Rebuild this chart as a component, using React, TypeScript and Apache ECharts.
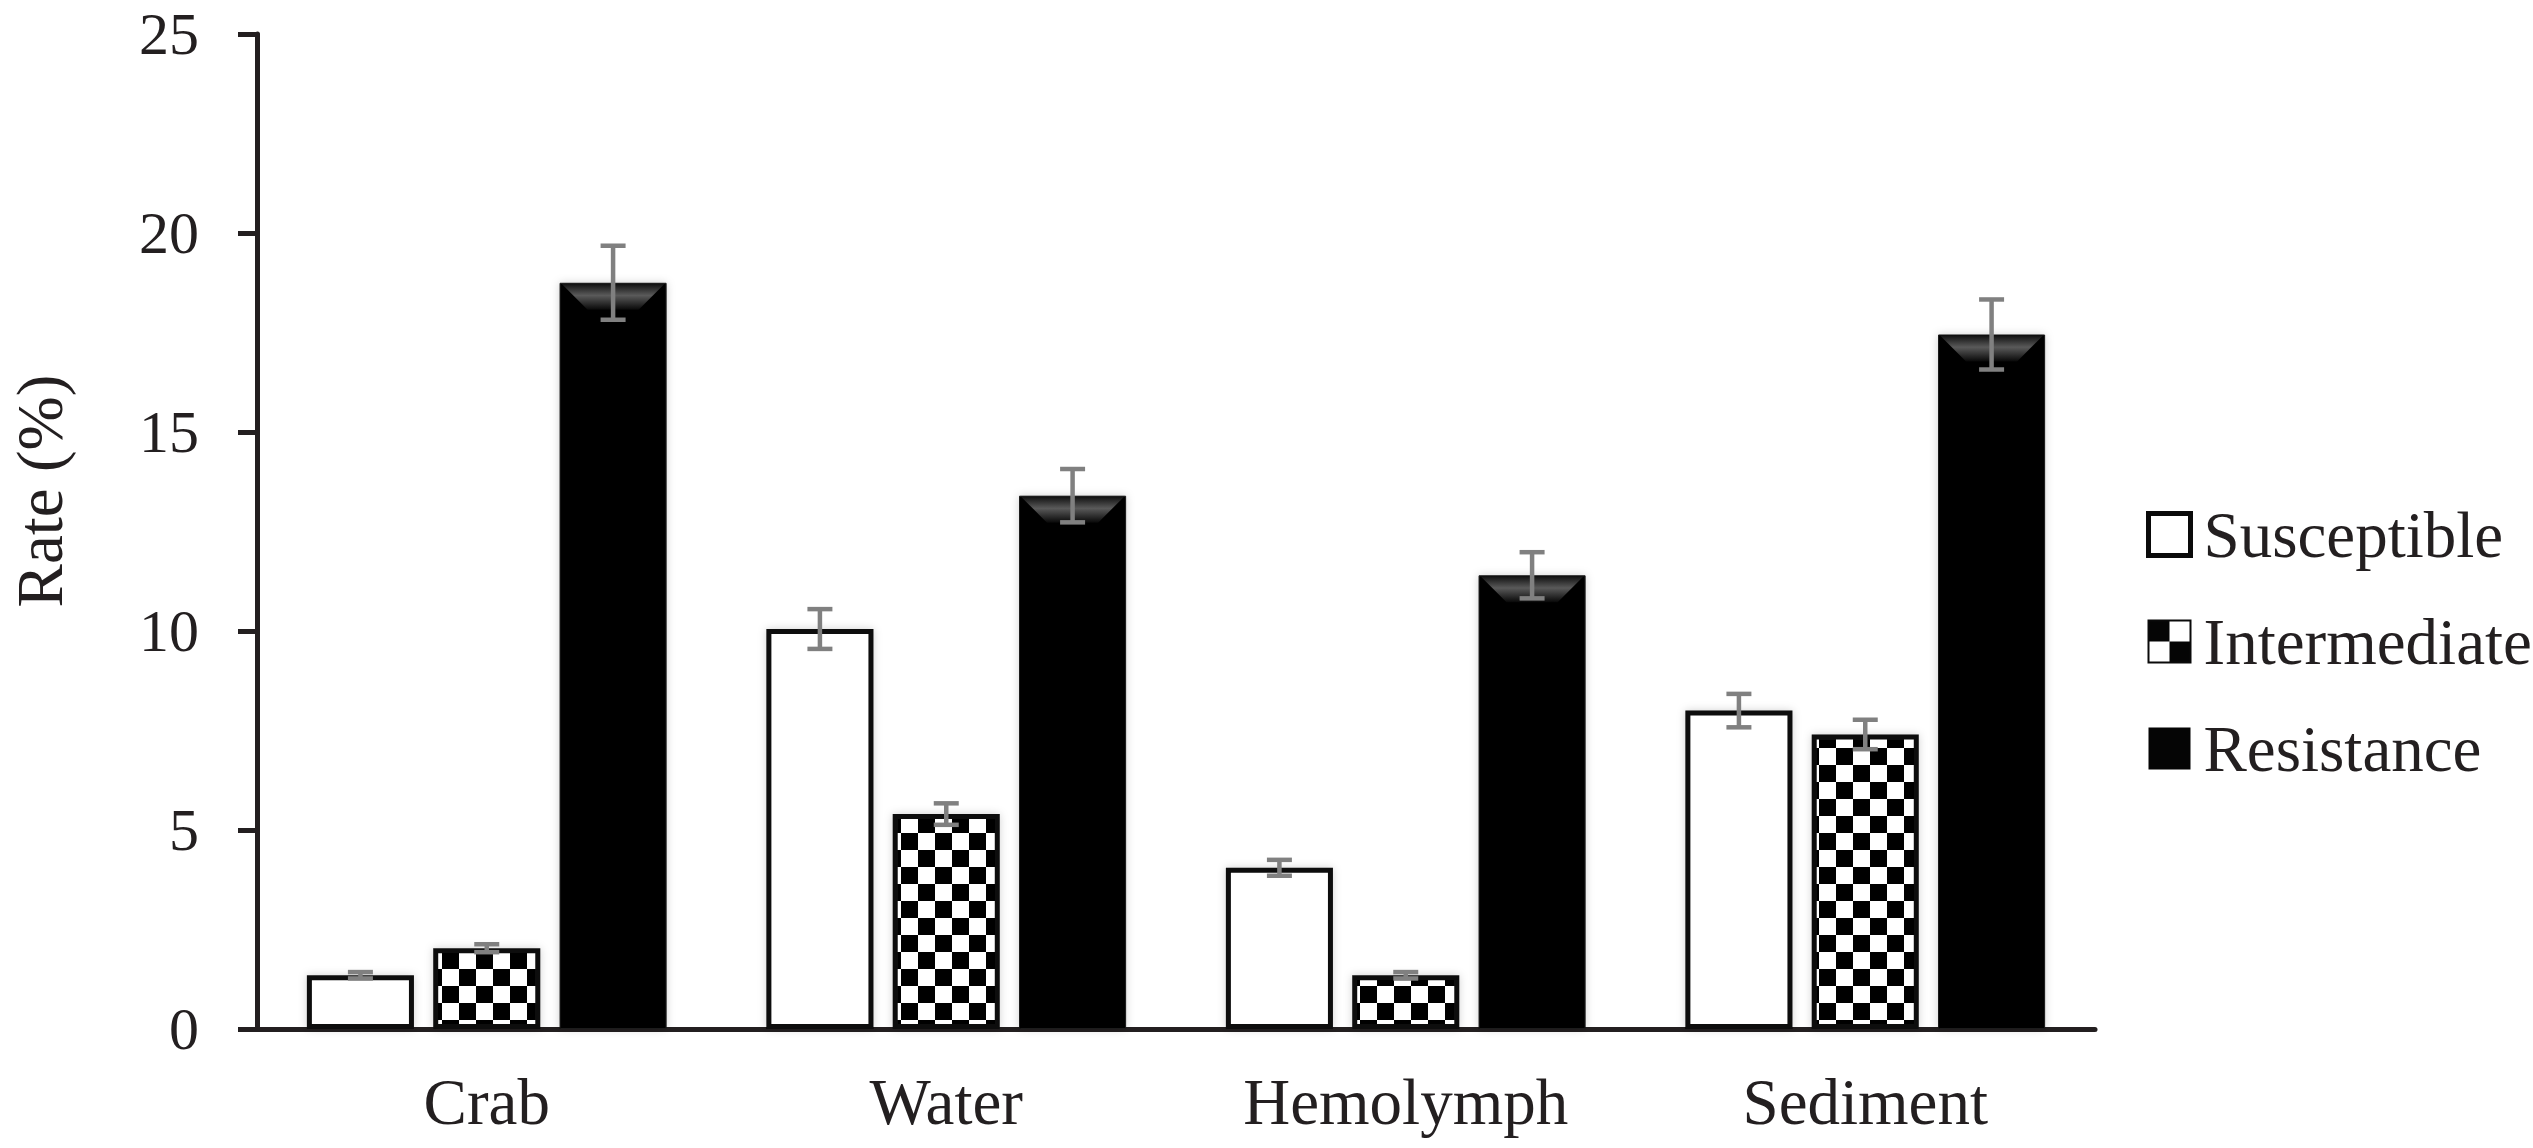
import React, { useEffect, useRef } from "react";
import * as echarts from "echarts";

const categories = ["Crab", "Water", "Hemolymph", "Sediment"];
const seriesNames = ["Susceptible", "Intermediate", "Resistance"];
const susceptible = [1.35, 10.05, 4.05, 8.0];
const intermediate = [2.03, 5.4, 1.35, 7.4];
const resistance = [18.75, 13.4, 11.4, 17.45];
const susceptibleErr = [0.08, 0.5, 0.2, 0.42];
const intermediateErr = [0.1, 0.27, 0.08, 0.37];
const resistanceErr = [0.93, 0.67, 0.58, 0.88];
const yTicks = [0, 5, 10, 15, 20, 25];

const BAR_FRAC = 0.233;
const GAP_FRAC = 0.18;
const TEXT = "#231f20";
const FONT = "'Liberation Serif', 'Times New Roman', serif";

function makeChecker(cell: number) {
  const c = document.createElement("canvas");
  c.width = cell * 2;
  c.height = cell * 2;
  const ctx = c.getContext("2d")!;
  ctx.fillStyle = "#ffffff";
  ctx.fillRect(0, 0, cell * 2, cell * 2);
  ctx.fillStyle = "#050505";
  ctx.fillRect(0, 0, cell, cell);
  ctx.fillRect(cell, cell, cell, cell);
  return c;
}

export default function App() {
  const ref = useRef<HTMLDivElement>(null);
  useEffect(() => {
    if (!ref.current) return;
    const chart = echarts.init(ref.current, undefined, { renderer: "svg" });
    const checker = makeChecker(17);
    const checkerLegend = makeChecker(21);
    const values = [susceptible, intermediate, resistance];
    const errs = [susceptibleErr, intermediateErr, resistanceErr];
    const errData: number[][] = [];
    values.forEach((arr, s) =>
      arr.forEach((v, i) => errData.push([i, v, errs[s][i], s]))
    );
    const bevelData = resistance.map((v, i) => [i, v]);
    const patternFill: any = {
      image: checker,
      repeat: "repeat",
      imageWidth: 34,
      imageHeight: 34,
    };
    const legendPattern: any = {
      image: checkerLegend,
      repeat: "repeat",
      imageWidth: 42,
      imageHeight: 42,
      x: 2146,
      y: 513,
    };
    const itemStyles: any[] = [
      { color: "#ffffff", borderColor: "#0a0a0a", borderWidth: 5 },
      { color: patternFill, borderColor: "#0a0a0a", borderWidth: 5 },
      { color: "#050505", borderColor: "#1a1a1a", borderWidth: 1 },
    ];
    const option: any = {
      animation: false,
      backgroundColor: "#ffffff",
      grid: { left: 257, right: 438, top: 34, bottom: 119, containLabel: false },
      xAxis: {
        type: "category",
        data: categories,
        axisLine: { show: true, lineStyle: { color: TEXT, width: 5 } },
        axisTick: { show: false },
        axisLabel: { color: TEXT, fontSize: 65, fontFamily: FONT, margin: 40 },
        splitLine: { show: false },
      },
      yAxis: {
        type: "value",
        min: yTicks[0],
        max: yTicks[yTicks.length - 1],
        interval: 5,
        axisLine: { show: true, lineStyle: { color: TEXT, width: 5 } },
        axisTick: { show: true, length: 19, lineStyle: { color: TEXT, width: 5 } },
        axisLabel: { color: TEXT, fontSize: 60, fontFamily: FONT, margin: 58 },
        splitLine: { show: false },
      },
      legend: {
        orient: "vertical",
        left: 2146,
        top: 502,
        padding: 0,
        itemWidth: 42,
        itemHeight: 42,
        itemGap: 42,
        selectedMode: false,
        textStyle: {
          color: TEXT,
          fontSize: 65,
          fontFamily: FONT,
          lineHeight: 64,
          padding: [0, 0, 0, 8],
        },
        data: [
          {
            name: "Susceptible",
            icon: "rect",
            itemStyle: { color: "#ffffff", borderColor: "#0a0a0a", borderWidth: 5 },
          },
          {
            name: "Intermediate",
            icon: "rect",
            itemStyle: { color: legendPattern, borderColor: "#0a0a0a", borderWidth: 2 },
          },
          {
            name: "Resistance",
            icon: "rect",
            itemStyle: { color: "#050505", borderColor: "#050505", borderWidth: 0 },
          },
        ],
      },
      graphic: [
        {
          type: "text",
          x: 40,
          y: 491,
          rotation: Math.PI / 2,
          style: {
            text: "Rate (%)",
            fill: TEXT,
            fontSize: 65,
            fontFamily: FONT,
            align: "center",
            verticalAlign: "middle",
          },
        },
      ],
      series: [
        ...seriesNames.map((name, s) => ({
          name,
          type: "bar",
          data: values[s],
          barWidth: (BAR_FRAC * 100).toFixed(1) + "%",
          barGap: GAP_FRAC * 100 + "%",
          itemStyle: {
            ...itemStyles[s],
            shadowBlur: 8,
            shadowColor: "rgba(0,0,0,0.18)",
          },
          z: 2,
        })),
        {
          name: "bevel",
          type: "custom",
          data: bevelData,
          encode: { x: 0, y: 1 },
          z: 3,
          silent: true,
          renderItem: (params: any, api: any) => {
            const cat = api.value(0);
            const val = api.value(1);
            const catW = api.size([1, 0])[0];
            const bw = catW * BAR_FRAC;
            const gap = bw * GAP_FRAC;
            const c = api.coord([cat, val]);
            const cx = c[0] + (bw + gap);
            const l = cx - bw / 2 + 2;
            const r = cx + bw / 2 - 2;
            const t = c[1] + 1;
            const d = 26;
            return {
              type: "polygon",
              shape: { points: [[l, t], [r, t], [r - d, t + d], [l + d, t + d]] },
              style: {
                fill: new echarts.graphic.LinearGradient(0, 0, 0, 1, [
                  { offset: 0, color: "#101010" },
                  { offset: 0.45, color: "#5a5a5a" },
                  { offset: 1, color: "#080808" },
                ]),
              },
            };
          },
        },
        {
          name: "errors",
          type: "custom",
          data: errData,
          encode: { x: 0, y: 1 },
          z: 5,
          silent: true,
          renderItem: (params: any, api: any) => {
            const cat = api.value(0);
            const val = api.value(1);
            const err = api.value(2);
            const si = api.value(3);
            const catW = api.size([1, 0])[0];
            const bw = catW * BAR_FRAC;
            const gap = bw * GAP_FRAC;
            const c = api.coord([cat, val]);
            const x = c[0] + (si - 1) * (bw + gap);
            const top = api.coord([cat, val + err])[1];
            const bot = api.coord([cat, val - err])[1];
            const half = 12.5;
            const st = { stroke: "#808080", lineWidth: 4.5 };
            return {
              type: "group",
              children: [
                { type: "line", shape: { x1: x, y1: top, x2: x, y2: bot }, style: st },
                { type: "line", shape: { x1: x - half, y1: top, x2: x + half, y2: top }, style: st },
                { type: "line", shape: { x1: x - half, y1: bot, x2: x + half, y2: bot }, style: st },
              ],
            };
          },
        },
      ],
    };
    chart.setOption(option);
    return () => chart.dispose();
  }, []);
  return (
    <div
      ref={ref}
      style={{ position: "absolute", left: 0, top: 0, width: 2533, height: 1148 }}
    />
  );
}
